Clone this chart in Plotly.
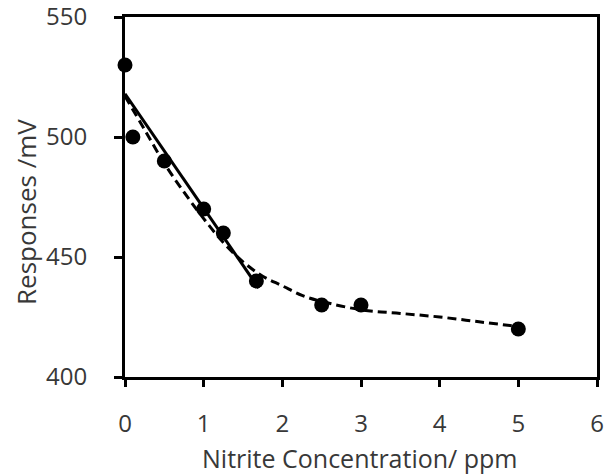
import plotly.graph_objects as go

# measured responses
conc = [0, 0.1, 0.5, 1.0, 1.25, 1.67, 2.5, 3.0, 5.0]
response = [530, 500, 490, 470, 460, 440, 430, 430, 420]

# linear region (solid line)
lin_x = [0, 1.7]
lin_y = [518, 437]

# trend curve (dashed)
curve_x = [0, 0.25, 0.5, 0.75, 1.0, 1.25, 1.5, 1.75, 2.0, 2.25, 2.5, 3.0, 3.5, 4.0, 4.5, 5.0]
curve_y = [517, 503, 489, 477, 466, 456, 448, 442, 438, 434, 431.5, 428, 426.5, 425, 423, 421]

FONT = "Open Sans"
TXT = "#383838"

fig = go.Figure()

fig.add_trace(go.Scatter(
    x=curve_x, y=curve_y, mode="lines",
    line=dict(color="black", width=3, dash="9px,5px", shape="spline"),
    showlegend=False,
))
fig.add_trace(go.Scatter(
    x=lin_x, y=lin_y, mode="lines",
    line=dict(color="black", width=3),
    showlegend=False,
))
fig.add_trace(go.Scatter(
    x=conc, y=response, mode="markers",
    marker=dict(color="black", size=15),
    showlegend=False, cliponaxis=False,
))

fig.update_layout(
    width=616, height=476,
    margin=dict(l=117, r=27, t=9, b=107),
    plot_bgcolor="white", paper_bgcolor="white",
    font=dict(family=FONT, size=24, color=TXT),
)
fig.update_xaxes(
    range=[0, 6], dtick=1, showgrid=False, zeroline=False, automargin=False,
    showline=True, linecolor="black", linewidth=3, mirror=True,
    ticks="outside", ticklen=7, tickwidth=2.5, tickcolor="black",
    ticklabelstandoff=16, ticklabeloverflow="allow",
)
fig.update_yaxes(
    range=[400, 550], dtick=50, showgrid=False, zeroline=False, automargin=False,
    showline=True, linecolor="black", linewidth=3, mirror=True,
    ticks="outside", ticklen=8, tickwidth=2.5, tickcolor="black",
    ticklabelstandoff=22, ticklabeloverflow="allow",
)

# axis titles as annotations for exact placement
fig.add_annotation(
    text="Nitrite Concentration/ ppm", xref="paper", yref="paper",
    x=0.498, y=-0.172, xanchor="center", yanchor="top", showarrow=False,
    font=dict(family=FONT, size=25, color=TXT),
)
fig.add_annotation(
    text="Responses /mV", xref="paper", yref="paper",
    x=-0.21, y=0.458, xanchor="center", yanchor="middle", showarrow=False,
    textangle=-90, font=dict(family=FONT, size=26, color=TXT),
)

fig.write_html("out.html")
